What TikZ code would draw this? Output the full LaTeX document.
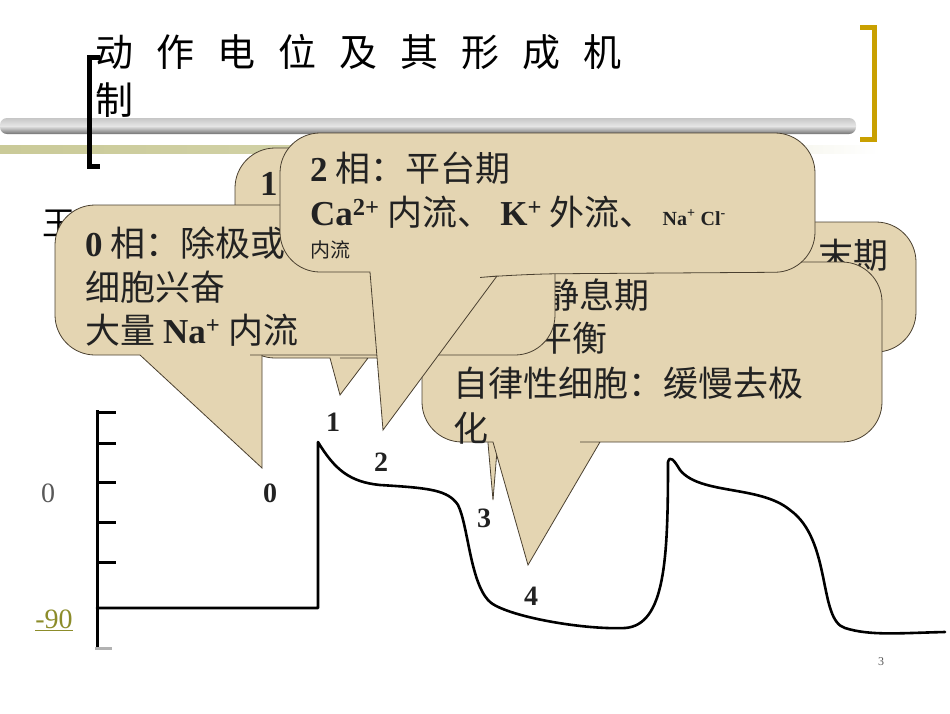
\documentclass[tikz,border=0pt]{standalone}
\usepackage{fontspec}
\setmainfont{Liberation Serif}
\newfontfamily\cjk{Noto Sans CJK SC}
\definecolor{tan}{HTML}{E4D5B2}
\definecolor{edge}{HTML}{4A4030}
\definecolor{gold}{HTML}{C9A000}
\definecolor{olv}{HTML}{CACA98}
\definecolor{lnk}{HTML}{8C8C2A}
\definecolor{ink}{HTML}{222222}
\tikzset{
  callout/.style={fill=tan,draw=edge,line width=0.8pt},
  ct/.style={anchor=base west,inner sep=0pt,text=ink,font=\fontsize{35}{40}\selectfont\cjk},
  curve/.style={line width=2.6pt,line cap=round,line join=round},
  lab/.style={inner sep=0pt,text=ink,font=\fontsize{28}{30}\selectfont\bfseries},
}
\newcommand{\lt}[1]{{\rmfamily\bfseries #1}}
\begin{document}
\begin{tikzpicture}[x=1pt,y=-1pt]
\useasboundingbox (0,0) rectangle (950,713);
% title
\node[anchor=base west,inner sep=0pt,font=\fontsize{38}{40}\selectfont\cjk] (t1) at (95,66) {动\hspace{23pt}作\hspace{23pt}电\hspace{23pt}位\hspace{23pt}及\hspace{23pt}其\hspace{23pt}形\hspace{23pt}成\hspace{23pt}机};
\node[anchor=base west,inner sep=0pt,font=\fontsize{38}{40}\selectfont\cjk] (t2) at (95,114) {制};
\shade[left color=olv,right color=white,middle color=olv!80] (0,145) rectangle (880,153);
\shade[top color=gray!45,bottom color=gray!90!black,middle color=gray!20,rounded corners=7pt] (0,118) rectangle (856,134);
\draw[line width=5pt] (100,57) -- (89,57) -- (89,166) -- (100,166);
\draw[gold,line width=5pt] (860,27) -- (874,27) -- (874,139) -- (860,139);
\node[anchor=base west,inner sep=0pt,font=\fontsize{33}{40}\selectfont\cjk] (hid) at (42,235) {王};
% axis
\draw[line width=3pt] (97,410) -- (97,648);
\foreach \yy in {412,443,482,522,562}{\draw[line width=3pt] (96,\yy) -- (116,\yy);}
\draw[gray!60,line width=3pt] (95,648) -- (112,648);
\draw[curve] (97,608) -- (318,608) -- (318,442)
  .. controls (335,470) and (350,482) .. (380,485)
  .. controls (430,488) and (448,490) .. (458,505)
  .. controls (468,525) and (470,580) .. (488,600)
  .. controls (500,615) and (580,630) .. (625,628)
  .. controls (665,625) and (668,560) .. (668,462)
  .. controls (670,455) and (674,460) .. (680,470)
  .. controls (700,495) and (760,485) .. (790,510)
  .. controls (832,540) and (818,620) .. (845,628)
  .. controls (870,636) and (900,633) .. (945,632);
\node[lab] (l1) at (333,422) {1};
\node[lab] (l2) at (381,462) {2};
\node[lab] (l3) at (484,518) {3};
\node[lab] (l4) at (531,596) {4};
\node[lab] (l0) at (270,493) {0};
\node[inner sep=0pt,font=\fontsize{28}{30}\selectfont,text=gray!70!black] (a0) at (48,493) {0};
\node[inner sep=0pt,font=\fontsize{28}{30}\selectfont,text=lnk] (a90) at (54,620) {\underline{-90}};
\node[inner sep=0pt,font=\fontsize{12}{14}\selectfont,text=gray!70!black] (pg) at (881,662) {3};
% callout 1
\draw[callout,rounded corners=40pt] (400,148) -- (560,148) -- (560,358) -- (380,358)
  [sharp corners] -- (368,358) -- (340,395) -- (330,358) -- (300,358)
  [rounded corners=40pt] -- (235,358) -- (235,148) -- cycle;
\node[ct] (c1) at (260,195) {\lt{1}};
% callout 3
\draw[callout,rounded corners=40pt] (700,222) -- (916,222) -- (916,352) -- (620,352)
  [sharp corners] -- (505,352) -- (493,500) -- (480,352) -- (470,352)
  [rounded corners=40pt] -- (440,352) -- (440,222) -- cycle;
\node[ct] (c3) at (818,268) {末期};
% callout 4
\draw[callout,rounded corners=40pt] (650,262) -- (882,262) -- (882,442) -- (620,442)
  [sharp corners] -- (600,442) -- (528,565) -- (493,442) -- (480,442)
  [rounded corners=40pt] -- (422,442) -- (422,262) -- cycle;
\node[ct] (c4a) at (447,308) {4 相：静息期};
\node[ct] (c4b) at (467,351) {离子平衡};
\node[ct] (c4c) at (453,396) {自律性细胞：缓慢去极};
\node[ct] (c4d) at (453,441) {化};
% callout 0
\draw[callout,rounded corners=40pt] (300,205) -- (555,205) -- (555,355) -- (290,355)
  [sharp corners] -- (262,355) -- (262,468) -- (140,355) -- (120,355)
  [rounded corners=40pt] -- (55,355) -- (55,205) -- cycle;
\node[ct] (c0a) at (85,256) {\lt{0} 相：除极或};
\node[ct] (c0b) at (85,300) {细胞兴奋};
\node[ct] (c0c) at (85,343) {大量 \lt{Na\textsuperscript{+}} 内流};
% callout 2
\draw[callout,rounded corners=40pt] (550,133) -- (815,133) -- (815,272) -- (520,274)
  [sharp corners] -- (497,276) -- (383,430) -- (370,272) -- (350,272)
  [rounded corners=40pt] -- (280,272) -- (280,133) -- cycle;
\node[ct] (c2a) at (310,181) {\lt{2} 相：平台期};
\node[ct] (c2b) at (310,225) {\lt{Ca\textsuperscript{2+}} 内流、 \lt{K\textsuperscript{+}} 外流、 {\fontsize{20}{22}\selectfont\lt{Na\textsuperscript{+} Cl\textsuperscript{-}}}};
\node[ct,font=\fontsize{20}{22}\selectfont\cjk] (c2c) at (310,257) {内流};
\end{tikzpicture}
\end{document}
